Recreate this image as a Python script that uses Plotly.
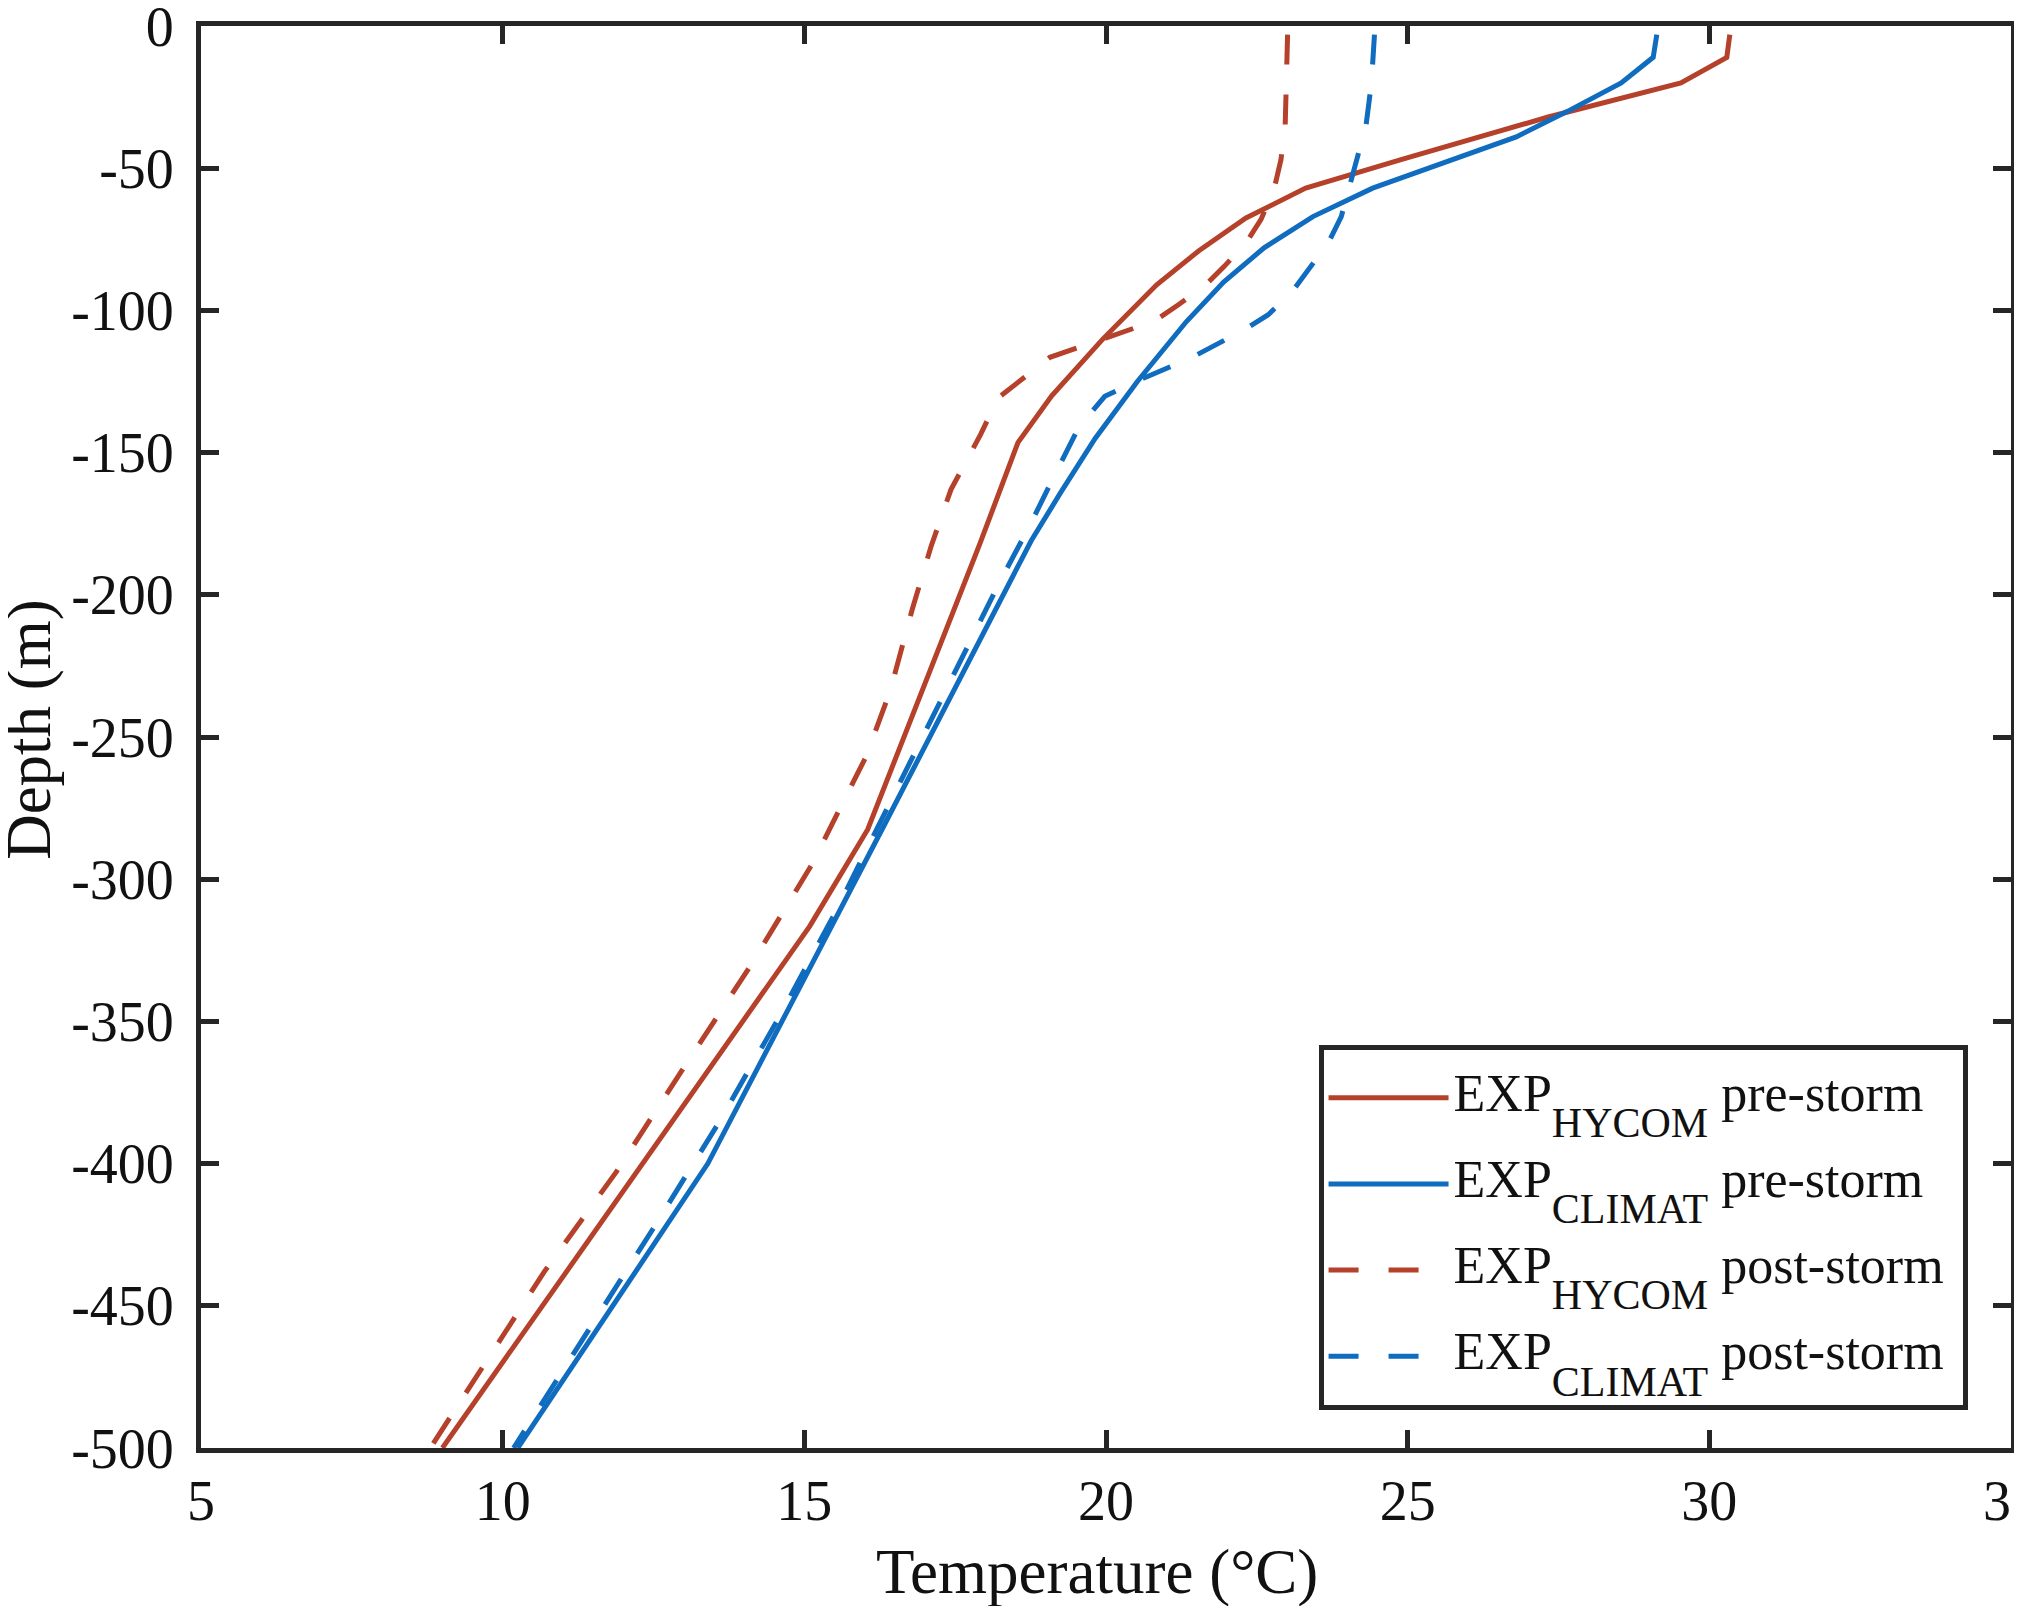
import plotly.graph_objects as go

# ---- data (temperature in degC, depth in m) ----
depth_hycom_pre = [-3, -11, -20, -32, -47, -57, -67.5, -79, -91, -110, -130,
                   -146.5, -182, -282.5, -316.5, -500]
temp_hycom_pre = [30.34, 30.29, 29.53, 27.33, 24.89, 23.31, 22.32, 21.54, 20.84,
                  19.95, 19.10, 18.54, 17.91, 16.05, 15.09, 9.00]

depth_climat_pre = [-3, -11, -20, -30, -39, -50, -57, -67, -78, -90, -104, -125,
                    -145, -164, -181, -282, -400, -500]
temp_climat_pre = [29.13, 29.07, 28.54, 27.65, 26.80, 25.31, 24.42, 23.43, 22.62,
                   21.95, 21.33, 20.52, 19.82, 19.25, 18.76, 16.30, 13.40, 10.25]

depth_hycom_post = [-3, -35, -47, -57, -68, -76, -84.5, -91.5, -98, -103.8, -116.5,
                    -130.8, -143.7, -163, -183, -205, -234, -257, -295, -331, -367,
                    -403, -438, -474, -500]
temp_hycom_post = [23.01, 22.97, 22.90, 22.79, 22.57, 22.33, 21.96, 21.63, 21.20,
                   20.80, 19.07, 18.21, 17.92, 17.43, 17.10, 16.79, 16.42, 16.02,
                   15.12, 14.09, 12.98, 11.88, 10.69, 9.59, 8.80]

depth_climat_post = [-3, -20, -35, -56, -67, -76, -85, -93.3, -101.5, -106.7, -116.7,
                     -124.5, -130.2, -141, -156.6, -175.9, -195, -234, -273, -311,
                     -349, -386, -423, -459, -500]
temp_climat_post = [24.45, 24.40, 24.31, 24.05, 23.90, 23.69, 23.39, 23.09, 22.69,
                    22.30, 21.41, 20.55, 19.98, 19.55, 19.18, 18.73, 18.25, 17.34,
                    16.42, 15.53, 14.57, 13.57, 12.49, 11.41, 10.18]

x_ticks = [5, 10, 15, 20, 25, 30, 35]
y_ticks = [0, -50, -100, -150, -200, -250, -300, -350, -400, -450, -500]
y_ticktext = [str(v) for v in y_ticks]  # plain hyphen like the original

RED = '#B5412A'
BLUE = '#0F6CBF'
AX = '#262626'
FONT = 'Liberation Serif'

series = [
    (temp_hycom_pre, depth_hycom_pre, RED, 'solid', 'HYCOM', 'pre-storm'),
    (temp_climat_pre, depth_climat_pre, BLUE, 'solid', 'CLIMAT', 'pre-storm'),
    (temp_hycom_post, depth_hycom_post, RED, '30px,30px', 'HYCOM', 'post-storm'),
    (temp_climat_post, depth_climat_post, BLUE, '30px,30px', 'CLIMAT', 'post-storm'),
]


def legend_name(sub, tail):
    # big subscript pushed low, like the MATLAB tex legend; whole text raised a bit
    return ('<span style="font-size:52px;baseline-shift:12px">EXP</span>'
            f'<sub><span style="font-size:42px;baseline-shift:-1px">{sub}</span></sub>'
            f'<span style="font-size:52px;baseline-shift:12px"> {tail}&nbsp;</span>')


fig = go.Figure()
for i, (t, d, color, dash, sub, tail) in enumerate(series):
    fig.add_trace(go.Scatter(
        x=t, y=d, mode='lines',
        name=legend_name(sub, tail),
        legendgroup=f'g{i}',
        line=dict(color=color, width=5, dash=dash),
    ))

axis_common = dict(
    showline=True, linewidth=5, linecolor=AX, mirror='ticks',
    ticks='inside', ticklen=18, tickwidth=5, tickcolor=AX,
    showgrid=False, zeroline=False, ticklabeloverflow='allow', automargin=False,
    tickfont=dict(family=FONT, size=56, color='#111111'),
)

fig.update_layout(
    width=2022, height=1606,
    margin=dict(l=193, r=19, t=18, b=166),
    paper_bgcolor='white', plot_bgcolor='white',
    font=dict(family=FONT, color='#111111'),
    xaxis=dict(range=[4.999, 35.001], tickvals=x_ticks, **axis_common),
    yaxis=dict(range=[-500.01, 0.01], tickvals=y_ticks, ticktext=y_ticktext,
               ticklabelstandoff=11, **axis_common),
    legend=dict(
        x=0.976, y=0.027, xanchor='right', yanchor='bottom',
        bgcolor='white', bordercolor=AX, borderwidth=5,
        font=dict(family=FONT, size=64, color='#111111'),
        itemwidth=120, tracegroupgap=0,
    ),
    showlegend=True,
    annotations=[
        dict(text='Temperature (°C)', xref='paper', yref='paper',
             x=0.495, y=-0.0612, xanchor='center', yanchor='top',
             showarrow=False, font=dict(family=FONT, size=63, color='#111111')),
        dict(text='Depth (m)', xref='paper', yref='paper',
             x=-0.0952, y=0.5055, xanchor='center', yanchor='middle', textangle=-90,
             showarrow=False, font=dict(family=FONT, size=63, color='#111111')),
    ],
)

fig.write_html("out.html")
